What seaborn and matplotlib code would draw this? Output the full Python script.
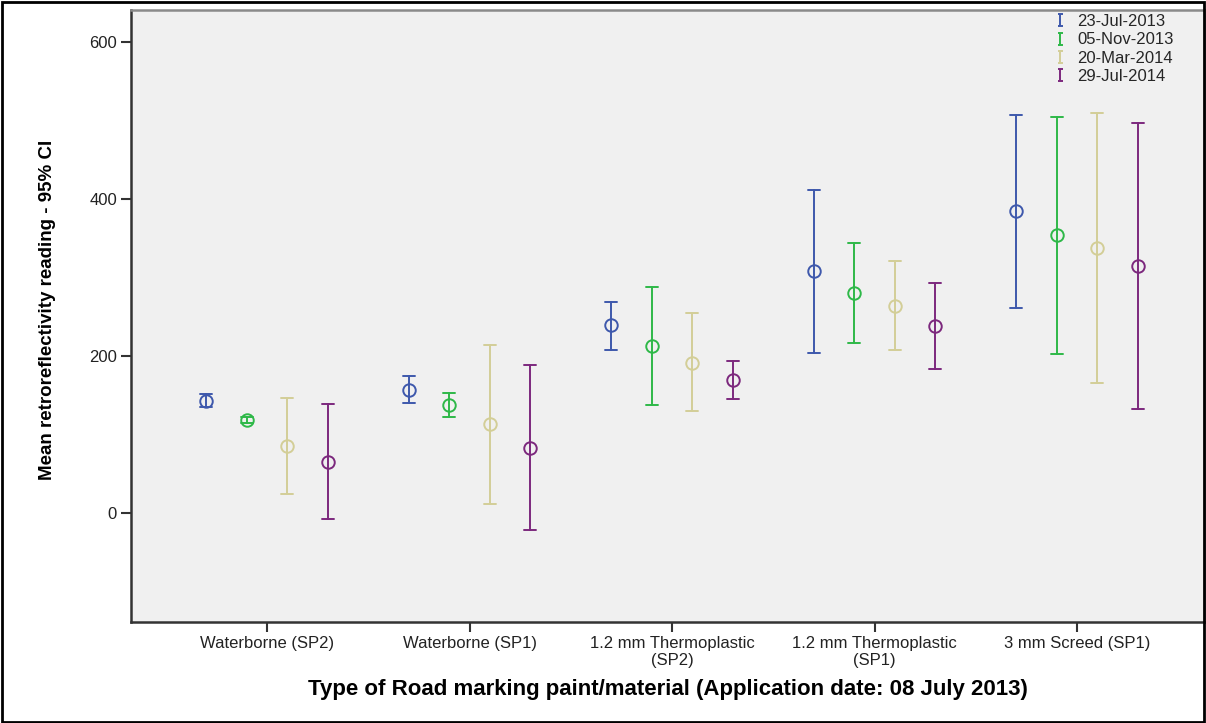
import numpy as np
import pandas as pd
import matplotlib
matplotlib.use("Agg")
import matplotlib.pyplot as plt
from matplotlib.lines import Line2D
from matplotlib.path import Path
from matplotlib.patches import Rectangle
import seaborn as sns

# categories and series
materials = ["Waterborne (SP2)", "Waterborne (SP1)", "1.2 mm Thermoplastic\n(SP2)",
             "1.2 mm Thermoplastic\n(SP1)", "3 mm Screed (SP1)"]
dates = ["23-Jul-2013", "05-Nov-2013", "20-Mar-2014", "29-Jul-2014"]
colors = ["#3E58AC", "#2EB848", "#D3CE97", "#7C287D"]

mean_jul13 = [143, 157, 239, 308, 384]
low_jul13 = [135, 140, 208, 204, 261]
high_jul13 = [151, 175, 269, 411, 507]

mean_nov13 = [118, 138, 213, 280, 354]
low_nov13 = [114, 122, 138, 216, 202]
high_nov13 = [122, 153, 288, 344, 504]

mean_mar14 = [85, 113, 191, 264, 338]
low_mar14 = [24, 12, 130, 207, 166]
high_mar14 = [146, 214, 254, 321, 509]

mean_jul14 = [65, 83, 169, 238, 315]
low_jul14 = [-8, -22, 145, 183, 132]
high_jul14 = [139, 188, 194, 293, 496]

series = {
    dates[0]: (low_jul13, mean_jul13, high_jul13),
    dates[1]: (low_nov13, mean_nov13, high_nov13),
    dates[2]: (low_mar14, mean_mar14, high_mar14),
    dates[3]: (low_jul14, mean_jul14, high_jul14),
}

# long table: lower bound, mean and upper bound per cell,
# so median = mean and the 100% interval = the CI
rows = []
for d, (lo, mu, hi) in series.items():
    for i, m in enumerate(materials):
        for v in (lo[i], mu[i], hi[i]):
            rows.append({"material": m, "date": d, "value": v})
df = pd.DataFrame(rows)

sns.set_theme(style="white")
plt.rcParams["font.family"] = ["Liberation Sans", "DejaVu Sans"]

fig = plt.figure(figsize=(12.06, 7.23), dpi=100)
ax = fig.add_axes([131 / 1206, 1 - 622 / 723, (1205 - 131) / 1206, (622 - 10) / 723])
ax.set_facecolor("#F0F0F0")

sns.pointplot(data=df, x="material", y="value", hue="date",
              order=materials, hue_order=dates, palette=colors,
              estimator="median", errorbar=("pi", 100),
              dodge=0.6, linestyle="none", markers="o", capsize=0.06,
              markersize=9, markeredgewidth=1.4, markerfacecolor="none",
              err_kws={"linewidth": 1.4}, legend=False, ax=ax)

ax.set_xlim(-0.672, 4.632)
ax.set_ylim(-138.8, 640.4)
ax.set_yticks([0, 200, 400, 600])

ax.tick_params(axis="both", direction="out", length=7, width=1.5,
               color="#333333", labelsize=12, labelcolor="#222222",
               bottom=True, left=True)
ax.tick_params(axis="x", pad=3)
ax.tick_params(axis="y", pad=3)
for side in ["left", "bottom"]:
    ax.spines[side].set_color("#333333")
    ax.spines[side].set_linewidth(1.8)
for side in ["top", "right"]:
    ax.spines[side].set_color("#8a8a8a")
    ax.spines[side].set_linewidth(1.8)

ax.set_xlabel("Type of Road marking paint/material (Application date: 08 July 2013)",
              fontsize=16, fontweight="bold", color="black")
ax.xaxis.label.set_va("center")
ax.xaxis.set_label_coords(0.5, -0.111)
ax.set_ylabel("Mean retroreflectivity reading - 95% CI",
              fontsize=13.5, fontweight="bold", color="black")
ax.yaxis.label.set_va("center")
ax.yaxis.set_label_coords(-0.078, 0.51)

# legend with error-bar style glyphs
ibar = Path([(-0.4, -1), (0.4, -1), (0, -1), (0, 1), (-0.4, 1), (0.4, 1)],
            [Path.MOVETO, Path.LINETO, Path.MOVETO, Path.LINETO, Path.MOVETO, Path.LINETO])
handles = [Line2D([], [], color=c, marker=ibar, linestyle="none",
                  markersize=9, markeredgewidth=1.4, markerfacecolor="none")
           for c in colors]
ax.legend(handles, dates, loc="upper left",
          bbox_to_anchor=(1052 / 1206, 1 - 14 / 723), bbox_transform=fig.transFigure,
          frameon=False, fontsize=12, handlelength=1.0, handletextpad=0.5,
          labelspacing=0.2, borderpad=0, borderaxespad=0)

# outer border of the figure
fig.patches.append(Rectangle((0.0015, 0.002), 0.997, 0.995, transform=fig.transFigure,
                             fill=False, edgecolor="black", linewidth=2))

fig.savefig("out.png", dpi=100)
